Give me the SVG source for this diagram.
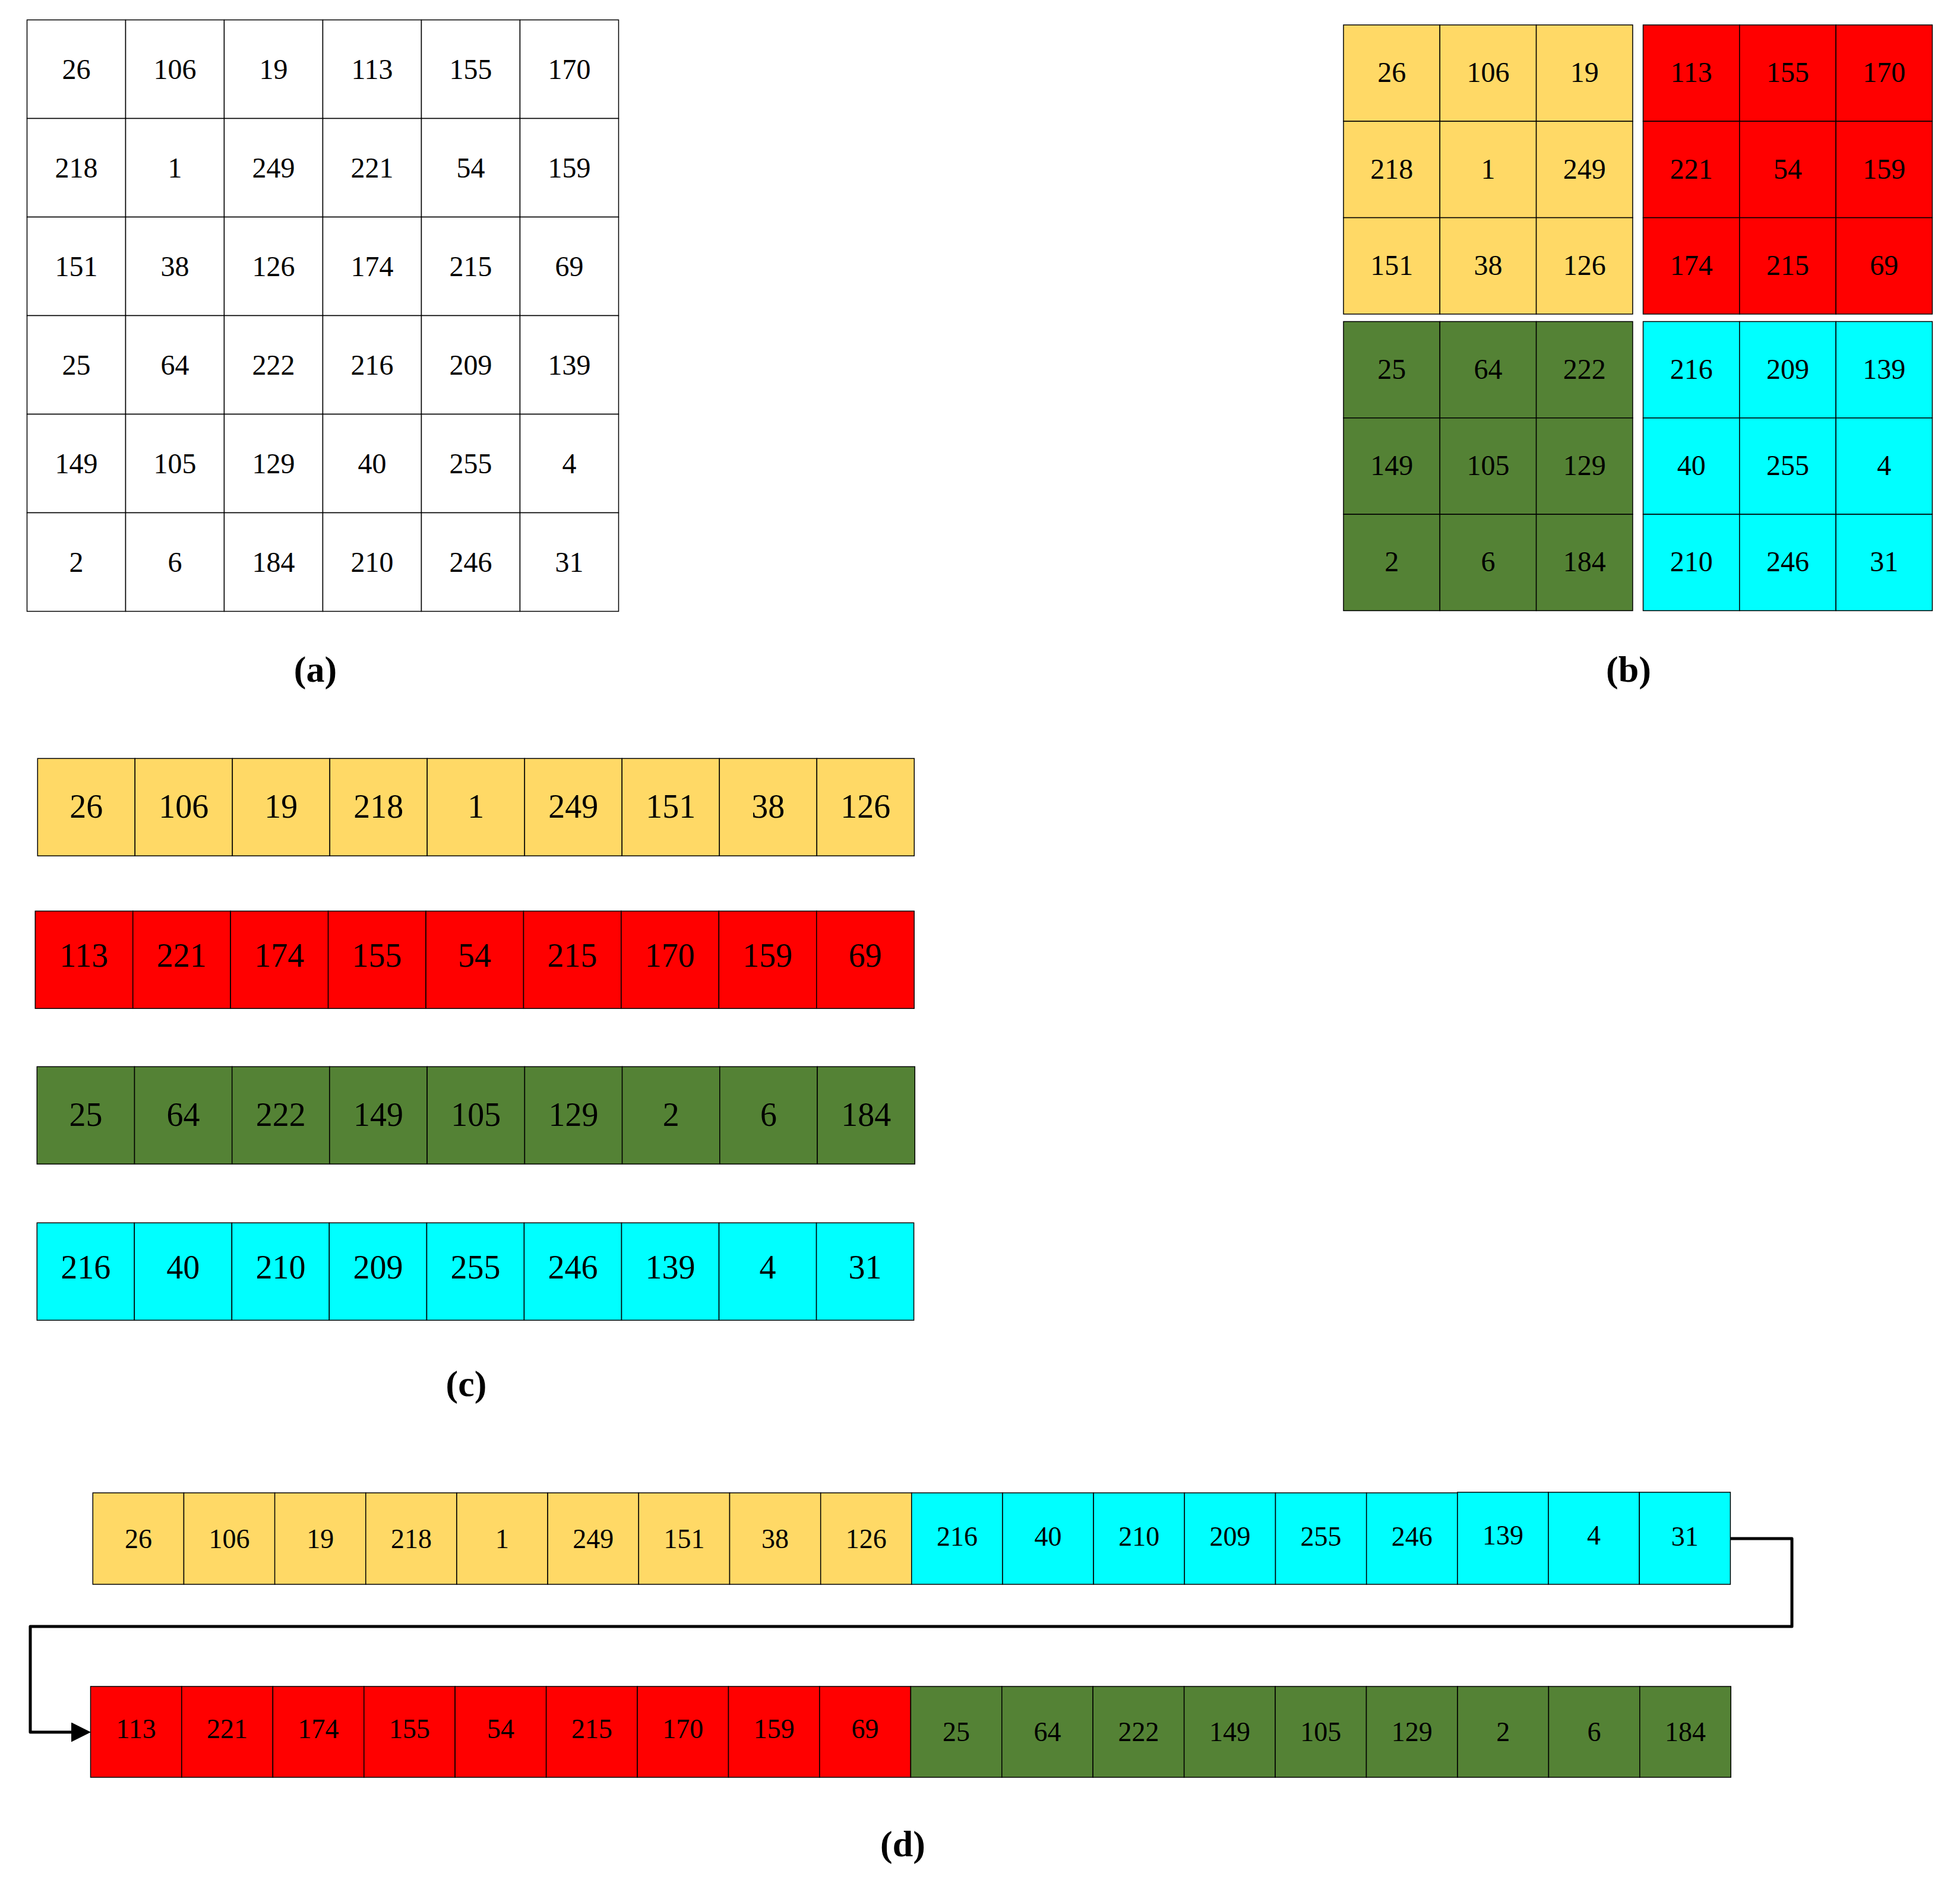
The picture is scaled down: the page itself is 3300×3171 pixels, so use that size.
<svg xmlns="http://www.w3.org/2000/svg" width="3300" height="3171" viewBox="0 0 3300 3171">
<style>
text{font-family:"Liberation Serif","Times New Roman",serif;fill:#000;text-anchor:middle}
.c{stroke:#000;stroke-width:1.5}
.w{fill:#fff}.y{fill:#FFD966}.r{fill:#FF0000}.g{fill:#548235}.b{fill:#00FFFF}
.ta{font-size:48px}.tb{font-size:48px}.tc{font-size:56px}.td{font-size:46px}
.lab{font-size:62px;font-weight:bold}
.conn{fill:none;stroke:#000;stroke-width:5;stroke-linejoin:round}
</style>
<defs>
<marker id="arr" markerUnits="userSpaceOnUse" markerWidth="34" markerHeight="34" refX="0" refY="16.5" orient="auto">
<path d="M0,0 L33,16.5 L0,33 Z" fill="#000"/>
</marker>
</defs>
<rect width="3300" height="3171" fill="#fff"/>

<!-- Panel (a) -->
<g id="panel-a">
<g id="a-grid" class="c w">
<rect x="45.5" y="33.5" width="166" height="166"/><rect x="211.5" y="33.5" width="166" height="166"/><rect x="377.5" y="33.5" width="166" height="166"/><rect x="543.5" y="33.5" width="166" height="166"/><rect x="709.5" y="33.5" width="166" height="166"/><rect x="875.5" y="33.5" width="166" height="166"/>
<rect x="45.5" y="199.5" width="166" height="166"/><rect x="211.5" y="199.5" width="166" height="166"/><rect x="377.5" y="199.5" width="166" height="166"/><rect x="543.5" y="199.5" width="166" height="166"/><rect x="709.5" y="199.5" width="166" height="166"/><rect x="875.5" y="199.5" width="166" height="166"/>
<rect x="45.5" y="365.5" width="166" height="166"/><rect x="211.5" y="365.5" width="166" height="166"/><rect x="377.5" y="365.5" width="166" height="166"/><rect x="543.5" y="365.5" width="166" height="166"/><rect x="709.5" y="365.5" width="166" height="166"/><rect x="875.5" y="365.5" width="166" height="166"/>
<rect x="45.5" y="531.5" width="166" height="166"/><rect x="211.5" y="531.5" width="166" height="166"/><rect x="377.5" y="531.5" width="166" height="166"/><rect x="543.5" y="531.5" width="166" height="166"/><rect x="709.5" y="531.5" width="166" height="166"/><rect x="875.5" y="531.5" width="166" height="166"/>
<rect x="45.5" y="697.5" width="166" height="166"/><rect x="211.5" y="697.5" width="166" height="166"/><rect x="377.5" y="697.5" width="166" height="166"/><rect x="543.5" y="697.5" width="166" height="166"/><rect x="709.5" y="697.5" width="166" height="166"/><rect x="875.5" y="697.5" width="166" height="166"/>
<rect x="45.5" y="863.5" width="166" height="166"/><rect x="211.5" y="863.5" width="166" height="166"/><rect x="377.5" y="863.5" width="166" height="166"/><rect x="543.5" y="863.5" width="166" height="166"/><rect x="709.5" y="863.5" width="166" height="166"/><rect x="875.5" y="863.5" width="166" height="166"/>
</g>
<g id="a-text" class="ta">
<text x="128.5" y="132.5">26</text><text x="294.5" y="132.5">106</text><text x="460.5" y="132.5">19</text><text x="626.5" y="132.5">113</text><text x="792.5" y="132.5">155</text><text x="958.5" y="132.5">170</text>
<text x="128.5" y="298.5">218</text><text x="294.5" y="298.5">1</text><text x="460.5" y="298.5">249</text><text x="626.5" y="298.5">221</text><text x="792.5" y="298.5">54</text><text x="958.5" y="298.5">159</text>
<text x="128.5" y="464.5">151</text><text x="294.5" y="464.5">38</text><text x="460.5" y="464.5">126</text><text x="626.5" y="464.5">174</text><text x="792.5" y="464.5">215</text><text x="958.5" y="464.5">69</text>
<text x="128.5" y="630.5">25</text><text x="294.5" y="630.5">64</text><text x="460.5" y="630.5">222</text><text x="626.5" y="630.5">216</text><text x="792.5" y="630.5">209</text><text x="958.5" y="630.5">139</text>
<text x="128.5" y="796.5">149</text><text x="294.5" y="796.5">105</text><text x="460.5" y="796.5">129</text><text x="626.5" y="796.5">40</text><text x="792.5" y="796.5">255</text><text x="958.5" y="796.5">4</text>
<text x="128.5" y="962.5">2</text><text x="294.5" y="962.5">6</text><text x="460.5" y="962.5">184</text><text x="626.5" y="962.5">210</text><text x="792.5" y="962.5">246</text><text x="958.5" y="962.5">31</text>
</g>
<text class="lab" x="531" y="1148">(a)</text>
</g>

<!-- Panel (b) -->
<g id="panel-b">
<g id="b-yellow">
<g class="c y">
<rect x="2262" y="42" width="162.3" height="162.3"/><rect x="2424.3" y="42" width="162.3" height="162.3"/><rect x="2586.6" y="42" width="162.3" height="162.3"/>
<rect x="2262" y="204.3" width="162.3" height="162.3"/><rect x="2424.3" y="204.3" width="162.3" height="162.3"/><rect x="2586.6" y="204.3" width="162.3" height="162.3"/>
<rect x="2262" y="366.6" width="162.3" height="162.3"/><rect x="2424.3" y="366.6" width="162.3" height="162.3"/><rect x="2586.6" y="366.6" width="162.3" height="162.3"/>
</g>
<g class="tb">
<text x="2343.2" y="138.2">26</text><text x="2505.5" y="138.2">106</text><text x="2667.8" y="138.2">19</text>
<text x="2343.2" y="300.5">218</text><text x="2505.5" y="300.5">1</text><text x="2667.8" y="300.5">249</text>
<text x="2343.2" y="462.8">151</text><text x="2505.5" y="462.8">38</text><text x="2667.8" y="462.8">126</text>
</g>
</g>
<g id="b-red">
<g class="c r">
<rect x="2766.5" y="42" width="162.3" height="162.3"/><rect x="2928.8" y="42" width="162.3" height="162.3"/><rect x="3091.1" y="42" width="162.3" height="162.3"/>
<rect x="2766.5" y="204.3" width="162.3" height="162.3"/><rect x="2928.8" y="204.3" width="162.3" height="162.3"/><rect x="3091.1" y="204.3" width="162.3" height="162.3"/>
<rect x="2766.5" y="366.6" width="162.3" height="162.3"/><rect x="2928.8" y="366.6" width="162.3" height="162.3"/><rect x="3091.1" y="366.6" width="162.3" height="162.3"/>
</g>
<g class="tb">
<text x="2847.7" y="138.2">113</text><text x="3010" y="138.2">155</text><text x="3172.3" y="138.2">170</text>
<text x="2847.7" y="300.5">221</text><text x="3010" y="300.5">54</text><text x="3172.3" y="300.5">159</text>
<text x="2847.7" y="462.8">174</text><text x="3010" y="462.8">215</text><text x="3172.3" y="462.8">69</text>
</g>
</g>
<g id="b-green">
<g class="c g">
<rect x="2262" y="541.5" width="162.3" height="162.3"/><rect x="2424.3" y="541.5" width="162.3" height="162.3"/><rect x="2586.6" y="541.5" width="162.3" height="162.3"/>
<rect x="2262" y="703.8" width="162.3" height="162.3"/><rect x="2424.3" y="703.8" width="162.3" height="162.3"/><rect x="2586.6" y="703.8" width="162.3" height="162.3"/>
<rect x="2262" y="866.1" width="162.3" height="162.3"/><rect x="2424.3" y="866.1" width="162.3" height="162.3"/><rect x="2586.6" y="866.1" width="162.3" height="162.3"/>
</g>
<g class="tb">
<text x="2343.2" y="637.7">25</text><text x="2505.5" y="637.7">64</text><text x="2667.8" y="637.7">222</text>
<text x="2343.2" y="800">149</text><text x="2505.5" y="800">105</text><text x="2667.8" y="800">129</text>
<text x="2343.2" y="962.3">2</text><text x="2505.5" y="962.3">6</text><text x="2667.8" y="962.3">184</text>
</g>
</g>
<g id="b-cyan">
<g class="c b">
<rect x="2766.5" y="541.5" width="162.3" height="162.3"/><rect x="2928.8" y="541.5" width="162.3" height="162.3"/><rect x="3091.1" y="541.5" width="162.3" height="162.3"/>
<rect x="2766.5" y="703.8" width="162.3" height="162.3"/><rect x="2928.8" y="703.8" width="162.3" height="162.3"/><rect x="3091.1" y="703.8" width="162.3" height="162.3"/>
<rect x="2766.5" y="866.1" width="162.3" height="162.3"/><rect x="2928.8" y="866.1" width="162.3" height="162.3"/><rect x="3091.1" y="866.1" width="162.3" height="162.3"/>
</g>
<g class="tb">
<text x="2847.7" y="637.7">216</text><text x="3010" y="637.7">209</text><text x="3172.3" y="637.7">139</text>
<text x="2847.7" y="800">40</text><text x="3010" y="800">255</text><text x="3172.3" y="800">4</text>
<text x="2847.7" y="962.3">210</text><text x="3010" y="962.3">246</text><text x="3172.3" y="962.3">31</text>
</g>
</g>
<text class="lab" x="2742" y="1148">(b)</text>
</g>

<!-- Panel (c) -->
<g id="panel-c">
<g id="c-yellow">
<g class="c y">
<rect x="63.3" y="1277.3" width="164" height="164"/><rect x="227.3" y="1277.3" width="164" height="164"/><rect x="391.3" y="1277.3" width="164" height="164"/><rect x="555.3" y="1277.3" width="164" height="164"/><rect x="719.3" y="1277.3" width="164" height="164"/><rect x="883.3" y="1277.3" width="164" height="164"/><rect x="1047.3" y="1277.3" width="164" height="164"/><rect x="1211.3" y="1277.3" width="164" height="164"/><rect x="1375.3" y="1277.3" width="164" height="164"/>
</g>
<g class="tc">
<text x="145.3" y="1376.8">26</text><text x="309.3" y="1376.8">106</text><text x="473.3" y="1376.8">19</text><text x="637.3" y="1376.8">218</text><text x="801.3" y="1376.8">1</text><text x="965.3" y="1376.8">249</text><text x="1129.3" y="1376.8">151</text><text x="1293.3" y="1376.8">38</text><text x="1457.3" y="1376.8">126</text>
</g>
</g>
<g id="c-red">
<g class="c r">
<rect x="59.3" y="1534.3" width="164.4" height="164"/><rect x="223.7" y="1534.3" width="164.4" height="164"/><rect x="388.2" y="1534.3" width="164.4" height="164"/><rect x="552.6" y="1534.3" width="164.4" height="164"/><rect x="717.1" y="1534.3" width="164.4" height="164"/><rect x="881.5" y="1534.3" width="164.4" height="164"/><rect x="1045.9" y="1534.3" width="164.4" height="164"/><rect x="1210.4" y="1534.3" width="164.4" height="164"/><rect x="1374.8" y="1534.3" width="164.4" height="164"/>
</g>
<g class="tc">
<text x="141.5" y="1628.3">113</text><text x="305.9" y="1628.3">221</text><text x="470.4" y="1628.3">174</text><text x="634.8" y="1628.3">155</text><text x="799.3" y="1628.3">54</text><text x="963.7" y="1628.3">215</text><text x="1128.1" y="1628.3">170</text><text x="1292.6" y="1628.3">159</text><text x="1457" y="1628.3">69</text>
</g>
</g>
<g id="c-green">
<g class="c g">
<rect x="62.3" y="1796.3" width="164.2" height="164"/><rect x="226.5" y="1796.3" width="164.2" height="164"/><rect x="390.7" y="1796.3" width="164.2" height="164"/><rect x="554.9" y="1796.3" width="164.2" height="164"/><rect x="719.2" y="1796.3" width="164.2" height="164"/><rect x="883.4" y="1796.3" width="164.2" height="164"/><rect x="1047.6" y="1796.3" width="164.2" height="164"/><rect x="1211.8" y="1796.3" width="164.2" height="164"/><rect x="1376.1" y="1796.3" width="164.2" height="164"/>
</g>
<g class="tc">
<text x="144.4" y="1895.7">25</text><text x="308.6" y="1895.7">64</text><text x="472.8" y="1895.7">222</text><text x="637" y="1895.7">149</text><text x="801.3" y="1895.7">105</text><text x="965.5" y="1895.7">129</text><text x="1129.7" y="1895.7">2</text><text x="1293.9" y="1895.7">6</text><text x="1458.2" y="1895.7">184</text>
</g>
</g>
<g id="c-cyan">
<g class="c b">
<rect x="62.3" y="2059.3" width="164" height="164"/><rect x="226.3" y="2059.3" width="164" height="164"/><rect x="390.4" y="2059.3" width="164" height="164"/><rect x="554.4" y="2059.3" width="164" height="164"/><rect x="718.5" y="2059.3" width="164" height="164"/><rect x="882.5" y="2059.3" width="164" height="164"/><rect x="1046.5" y="2059.3" width="164" height="164"/><rect x="1210.6" y="2059.3" width="164" height="164"/><rect x="1374.6" y="2059.3" width="164" height="164"/>
</g>
<g class="tc">
<text x="144.3" y="2153.3">216</text><text x="308.3" y="2153.3">40</text><text x="472.4" y="2153.3">210</text><text x="636.4" y="2153.3">209</text><text x="800.5" y="2153.3">255</text><text x="964.5" y="2153.3">246</text><text x="1128.5" y="2153.3">139</text><text x="1292.6" y="2153.3">4</text><text x="1456.6" y="2153.3">31</text>
</g>
</g>
<text class="lab" x="785" y="2351">(c)</text>
</g>

<!-- Panel (d) -->
<g id="panel-d">
<g id="d-yellow">
<g class="c y">
<rect x="156.3" y="2514" width="153.2" height="154"/><rect x="309.5" y="2514" width="153.2" height="154"/><rect x="462.6" y="2514" width="153.2" height="154"/><rect x="615.8" y="2514" width="153.2" height="154"/><rect x="769" y="2514" width="153.2" height="154"/><rect x="922.2" y="2514" width="153.2" height="154"/><rect x="1075.3" y="2514" width="153.2" height="154"/><rect x="1228.5" y="2514" width="153.2" height="154"/><rect x="1381.7" y="2514" width="153.2" height="154"/>
</g>
<g class="td">
<text x="232.9" y="2607">26</text><text x="386.1" y="2607">106</text><text x="539.2" y="2607">19</text><text x="692.4" y="2607">218</text><text x="845.6" y="2607">1</text><text x="998.8" y="2607">249</text><text x="1151.9" y="2607">151</text><text x="1305.1" y="2607">38</text><text x="1458.3" y="2607">126</text>
</g>
</g>
<g id="d-cyan">
<g class="c b">
<rect x="1534.8" y="2514" width="153.2" height="154"/><rect x="1688" y="2514" width="153.2" height="154"/><rect x="1841.2" y="2514" width="153.2" height="154"/><rect x="1994.3" y="2514" width="153.2" height="154"/><rect x="2147.5" y="2514" width="153.2" height="154"/><rect x="2300.7" y="2514" width="153.2" height="154"/><rect x="2453.9" y="2513" width="153.2" height="155"/><rect x="2607" y="2513" width="153.2" height="155"/><rect x="2760.2" y="2513" width="153.2" height="155"/>
</g>
<g class="td">
<text x="1611.4" y="2603">216</text><text x="1764.6" y="2603">40</text><text x="1917.8" y="2603">210</text><text x="2070.9" y="2603">209</text><text x="2224.1" y="2603">255</text><text x="2377.3" y="2603">246</text><text x="2530.5" y="2601">139</text><text x="2683.6" y="2601">4</text><text x="2836.8" y="2603">31</text>
</g>
</g>
<g id="d-red">
<g class="c r">
<rect x="152.5" y="2840" width="153.4" height="153"/><rect x="305.9" y="2840" width="153.4" height="153"/><rect x="459.4" y="2840" width="153.4" height="153"/><rect x="612.8" y="2840" width="153.4" height="153"/><rect x="766.2" y="2840" width="153.4" height="153"/><rect x="919.7" y="2840" width="153.4" height="153"/><rect x="1073.1" y="2840" width="153.4" height="153"/><rect x="1226.5" y="2840" width="153.4" height="153"/><rect x="1379.9" y="2840" width="153.4" height="153"/>
</g>
<g class="td">
<text x="229.2" y="2927">113</text><text x="382.6" y="2927">221</text><text x="536.1" y="2927">174</text><text x="689.5" y="2927">155</text><text x="842.9" y="2927">54</text><text x="996.4" y="2927">215</text><text x="1149.8" y="2927">170</text><text x="1303.2" y="2927">159</text><text x="1456.6" y="2927">69</text>
</g>
</g>
<g id="d-green">
<g class="c g">
<rect x="1533.4" y="2840" width="153.4" height="153"/><rect x="1686.8" y="2840" width="153.4" height="153"/><rect x="1840.2" y="2840" width="153.4" height="153"/><rect x="1993.7" y="2840" width="153.4" height="153"/><rect x="2147.1" y="2840" width="153.4" height="153"/><rect x="2300.5" y="2840" width="153.4" height="153"/><rect x="2454" y="2840" width="153.4" height="153"/><rect x="2607.4" y="2840" width="153.4" height="153"/><rect x="2760.8" y="2840" width="153.4" height="153"/>
</g>
<g class="td">
<text x="1610.1" y="2932">25</text><text x="1763.5" y="2932">64</text><text x="1916.9" y="2932">222</text><text x="2070.4" y="2932">149</text><text x="2223.8" y="2932">105</text><text x="2377.2" y="2932">129</text><text x="2530.7" y="2932">2</text><text x="2684.1" y="2932">6</text><text x="2837.5" y="2932">184</text>
</g>
</g>
<text class="lab" x="1520" y="3126">(d)</text>
</g>

<!-- Connectors -->
<g id="connectors">
<path class="conn" d="M2913.4 2591 H3017 V2739 H51 V2917 H120" marker-end="url(#arr)"/>
</g>
</svg>
